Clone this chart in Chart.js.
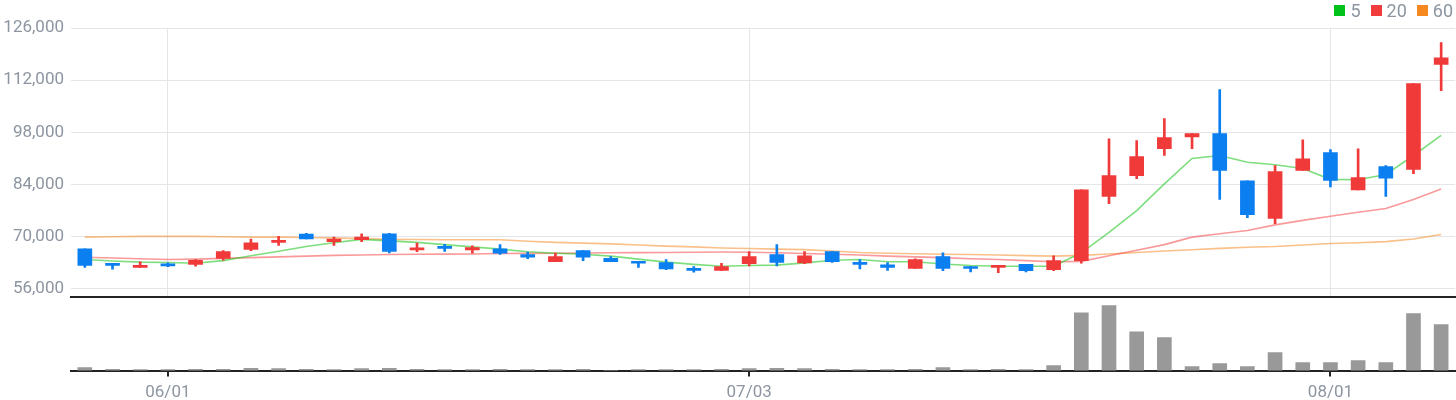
<!DOCTYPE html>
<html>
<head>
<meta charset="utf-8">
<script src="https://cdn.jsdelivr.net/npm/chart.js@4"></script>
<style>
    body { margin: 0; background: #fff; font-family: Roboto, sans-serif; }
    #wrap { position: relative; width: 1456px; height: 400px; overflow: hidden; }
    #priceChart { position: absolute; left: 0; top: 0; }
    #volChart { position: absolute; left: 0; top: 297px; }
    #legend { position: absolute; right: 3px; top: 0; display: flex; align-items: center; height: 20px; font-size: 18px; color: #8c95a0; }
    #legend span.box { display: inline-block; width: 11px; height: 11px; margin-right: 5px; }
    #legend span.txt { margin-right: 10px; }
    #legend span.txt:last-child { margin-right: 0; }
</style>
</head>
<body>
<div id="wrap">
    <canvas id="priceChart" width="1456" height="314"></canvas>
    <canvas id="volChart" width="1456" height="112"></canvas>
    <div id="legend"></div>
</div>
<script>
// trading days
var dates = ['05/26', '05/30', '05/31', '06/01', '06/02', '06/05', '06/07', '06/08', '06/09', '06/12',
    '06/13', '06/14', '06/15', '06/16', '06/19', '06/20', '06/21', '06/22', '06/23', '06/26',
    '06/27', '06/28', '06/29', '06/30', '07/03', '07/04', '07/05', '07/06', '07/07', '07/10',
    '07/11', '07/12', '07/13', '07/14', '07/17', '07/18', '07/19', '07/20', '07/21', '07/24',
    '07/25', '07/26', '07/27', '07/28', '07/31', '08/01', '08/02', '08/03', '08/04', '08/07'];

var openP = [66800, 62900, 61800, 62600, 62600, 64200, 66600, 68500, 70700, 68700,
    69200, 70800, 66500, 67400, 66500, 66800, 65200, 63300, 66300, 64200,
    63300, 63100, 61400, 61000, 62800, 65200, 63000, 66000, 63100, 62500,
    61500, 64700, 62000, 61800, 62600, 61200, 63600, 80800, 86400, 93600,
    96800, 97700, 85000, 74900, 87800, 92600, 82600, 88800, 88100, 116200];
var highP = [66800, 62900, 63300, 63000, 63900, 66300, 69400, 70100, 70900, 69900,
    70800, 70900, 68300, 68000, 67600, 67900, 65900, 65600, 66300, 64700,
    63300, 63900, 62000, 62900, 66000, 67900, 66000, 66000, 63900, 63100,
    64100, 65700, 62000, 62200, 62600, 64900, 82600, 96300, 95800, 101700,
    97700, 109500, 85000, 89100, 96000, 93400, 93600, 89100, 111100, 122100];
var lowP = [61800, 61300, 61800, 62000, 62100, 63700, 66300, 67700, 69400, 67700,
    68700, 65700, 66000, 66100, 65600, 65300, 64100, 63300, 63600, 63300,
    61800, 61200, 60500, 61000, 62200, 62200, 62800, 63100, 61400, 61000,
    61500, 60900, 60600, 60400, 60600, 60900, 62900, 78900, 85600, 91800,
    93600, 80000, 75100, 73500, 87800, 83400, 82600, 80800, 86900, 109200];
var closeP = [62300, 62300, 62300, 62200, 63700, 66000, 68400, 69000, 69400, 69400,
    69900, 66100, 67000, 66900, 67100, 65600, 64500, 64700, 64500, 63300,
    62900, 61400, 61000, 62000, 64700, 63100, 64900, 63300, 62600, 61800,
    63900, 61500, 61500, 62200, 60900, 63600, 82600, 86400, 91500, 96600,
    97700, 87800, 75900, 87500, 90900, 85100, 85900, 85700, 111100, 118000];

var volume = [38000, 14000, 13000, 12000, 14000, 15000, 26000, 24000, 15000, 13000,
    24000, 27000, 14000, 12000, 13000, 14000, 12000, 13000, 14000, 2000,
    12000, 13000, 12000, 14000, 25000, 26000, 24000, 14000, 13000, 12000,
    14000, 38000, 13000, 14000, 12000, 62000, 700000, 785000, 470000, 400000,
    50000, 86000, 48000, 218000, 96000, 96000, 122000, 96000, 690000, 555000];

// moving averages
var ma5 = [63900, 63500, 63200, 63100, 62900, 63600, 64900, 66100, 67400, 68400,
    69300, 68900, 68500, 67900, 67300, 66700, 66000, 65600, 65300, 64800,
    64000, 63200, 62600, 62100, 62300, 62400, 63000, 63700, 63900, 63300,
    63300, 62700, 62300, 62100, 62100, 62100, 65700, 71200, 77000, 84200,
    91000, 91800, 90000, 89300, 88300, 85400, 85300, 86700, 91800, 97200];
var ma20 = [64500, 64300, 64100, 63900, 64000, 64200, 64400, 64600, 64800, 65000,
    65100, 65250, 65300, 65350, 65400, 65500, 65550, 65600, 65650, 65700,
    65750, 65800, 65850, 65900, 65850, 65700, 65500, 65300, 65100, 64800,
    64600, 64400, 64100, 63900, 63600, 63300, 63400, 64900, 66400, 67900,
    69900, 70800, 71700, 73200, 74400, 75500, 76600, 77600, 80000, 82800];
var ma60 = [69900, 70000, 70100, 70100, 70100, 70000, 69900, 69900, 69800, 69700,
    69500, 69300, 69250, 69200, 69200, 69200, 68800, 68500, 68300, 68100,
    67800, 67500, 67300, 67000, 66850, 66700, 66550, 66200, 65800, 65600,
    65450, 65300, 65250, 65100, 64950, 64800, 65000, 65400, 65800, 66200,
    66500, 66900, 67200, 67400, 67800, 68200, 68400, 68700, 69400, 70600];

var yTicks = [56000, 70000, 84000, 98000, 112000, 126000];
var markDates = ['06/01', '07/03', '08/01'];

var UP = '#f03a3a';
var DOWN = '#0b7ef0';
var TXT = '#8c95a0';
var GRID = '#e3e5e9';

var legendItems = [
    { label: '5', color: '#00c21a' },
    { label: '20', color: '#f03c3c' },
    { label: '60', color: '#f5891f' }
];

var lg = document.getElementById('legend');
legendItems.forEach(function (it) {
    var b = document.createElement('span');
    b.className = 'box';
    b.style.background = it.color;
    var t = document.createElement('span');
    t.className = 'txt';
    t.textContent = it.label;
    lg.appendChild(b);
    lg.appendChild(t);
});

var colors = dates.map(function (d, i) { return closeP[i] >= openP[i] ? UP : DOWN; });
var isMark = function (i) { return markDates.indexOf(dates[i]) >= 0; };

new Chart(document.getElementById('priceChart'), {
    type: 'bar',
    data: {
        labels: dates,
        datasets: [{
            label: 'body',
            data: dates.map(function (d, i) { return [openP[i], closeP[i]]; }),
            backgroundColor: colors,
            barThickness: 14,
            minBarLength: 2,
            grouped: false,
            order: 0
        }, {
            label: 'wick',
            data: dates.map(function (d, i) { return [lowP[i], highP[i]]; }),
            backgroundColor: colors,
            barThickness: 2,
            grouped: false,
            order: 1
        }, {
            type: 'line',
            label: '5',
            data: ma5,
            borderColor: 'rgba(40, 200, 40, 0.6)',
            borderWidth: 1.6,
            pointRadius: 0,
            order: 2
        }, {
            type: 'line',
            label: '20',
            data: ma20,
            borderColor: 'rgba(245, 70, 70, 0.55)',
            borderWidth: 1.6,
            pointRadius: 0,
            order: 3
        }, {
            type: 'line',
            label: '60',
            data: ma60,
            borderColor: 'rgba(245, 140, 40, 0.55)',
            borderWidth: 1.6,
            pointRadius: 0,
            order: 4
        }]
    },
    options: {
        responsive: false,
        animation: false,
        events: [],
        layout: { padding: { top: 28, right: 1, bottom: 0, left: 0 } },
        plugins: { legend: { display: false }, tooltip: { enabled: false } },
        scales: {
            x: {
                offset: true,
                grid: {
                    offset: false,
                    drawTicks: false,
                    color: function (ctx) { return isMark(ctx.index) ? GRID : 'transparent'; }
                },
                border: { color: '#222', width: 2 },
                ticks: { display: false, autoSkip: false }
            },
            y: {
                min: 53900,
                max: 126000,
                afterBuildTicks: function (s) {
                    s.ticks = yTicks.map(function (v) { return { value: v }; });
                },
                afterFit: function (s) { s.width = 71; },
                grid: { color: GRID, drawTicks: false },
                border: { display: false },
                ticks: {
                    color: TXT,
                    padding: 7,
                    font: { family: 'Roboto', size: 17 },
                    callback: function (v) { return v.toLocaleString('en-US'); }
                }
            }
        }
    }
});

new Chart(document.getElementById('volChart'), {
    type: 'bar',
    data: {
        labels: dates,
        datasets: [{
            label: 'volume',
            data: volume,
            backgroundColor: '#999999',
            barThickness: 14
        }]
    },
    options: {
        responsive: false,
        animation: false,
        events: [],
        layout: { padding: { top: 0, right: 1, bottom: 0, left: 0 } },
        plugins: { legend: { display: false }, tooltip: { enabled: false } },
        scales: {
            x: {
                offset: true,
                grid: {
                    offset: false,
                    drawOnChartArea: false,
                    tickLength: 6,
                    lineWidth: 2,
                    color: function (ctx) { return isMark(ctx.index) ? '#222' : 'transparent'; }
                },
                border: { color: '#222', width: 2 },
                ticks: {
                    autoSkip: false,
                    maxRotation: 0,
                    color: TXT,
                    padding: 6,
                    font: { family: 'Roboto', size: 17 },
                    callback: function (v, i) { return isMark(i) ? dates[i] : ''; }
                }
            },
            y: {
                min: 0,
                max: 890000,
                afterFit: function (s) { s.width = 71; },
                grid: { display: false },
                border: { display: false },
                ticks: { display: false }
            }
        }
    }
});
</script>
</body>
</html>
